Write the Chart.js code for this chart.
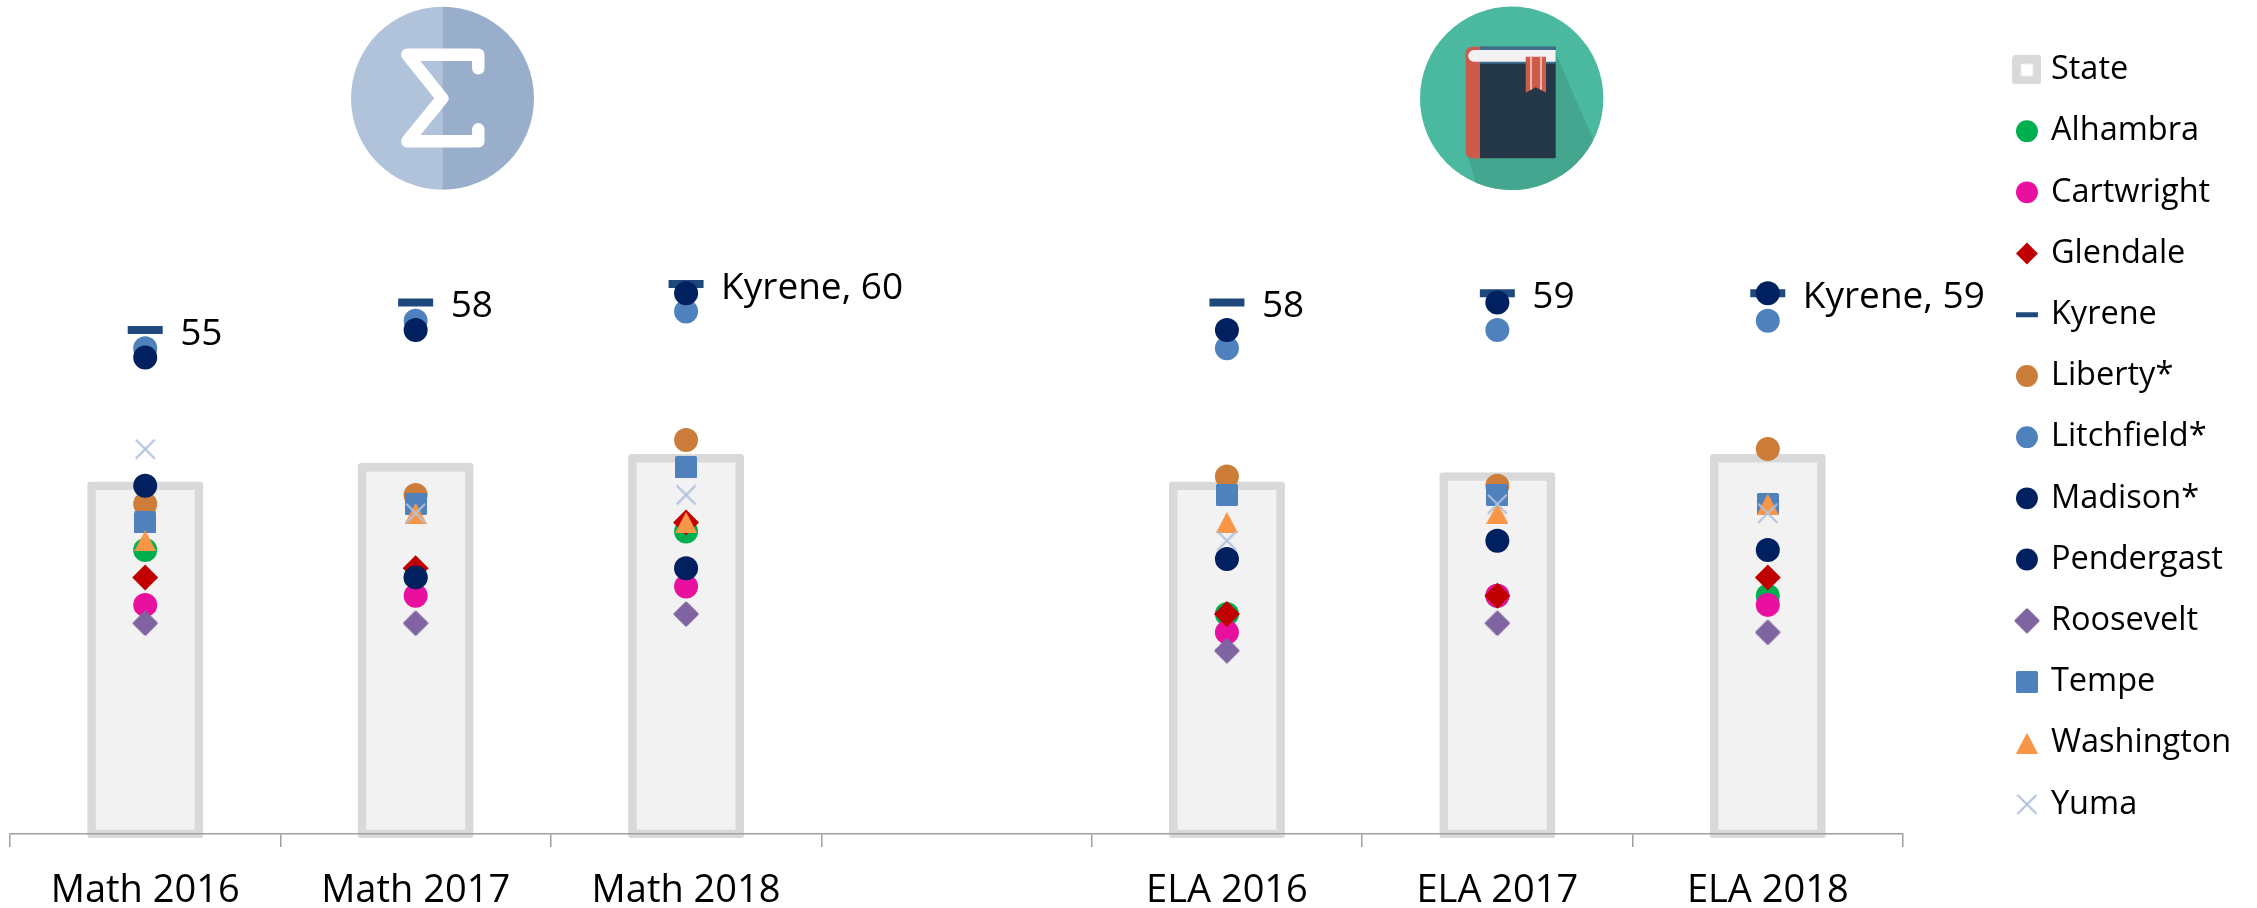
<!DOCTYPE html>
<html>
<head>
<meta charset="utf-8">
<title>District scores</title>
<script src="https://cdn.jsdelivr.net/npm/chart.js@4/dist/chart.umd.min.js"></script>
<style>
  html, body { margin: 0; padding: 0; background: #fff; overflow: hidden; }
  #wrap { position: relative; width: 2257px; height: 908px; }
  #chart { position: absolute; left: 0; top: 0; }
  #icons { position: absolute; left: 0; top: 0; pointer-events: none; }
</style>
</head>
<body>
<div id="wrap">
  <canvas id="chart" width="2257" height="908"></canvas>
  <svg id="icons" width="2257" height="908" viewBox="0 0 2257 908">
    <defs>
      <clipPath id="sigmaClip"><circle cx="442.5" cy="98.3" r="91.5"/></clipPath>
      <clipPath id="bookClip"><circle cx="1511.7" cy="98.3" r="91.7"/></clipPath>
    </defs>
    <g clip-path="url(#sigmaClip)">
      <rect x="351" y="6" width="92" height="185" fill="#B0C3DA"/>
      <rect x="442.7" y="6" width="92" height="185" fill="#98AECA"/>
    </g>
    <polyline points="478.3,68.3 478.3,54.7 407.3,54.7 442.3,98.3 407.3,141.3 478.3,141.3 478.3,129.3" fill="none" stroke="#fff" stroke-width="12.5" stroke-linecap="round" stroke-linejoin="round"/>
    <circle cx="1511.7" cy="98.3" r="91.7" fill="#4BB8A0"/>
    <polygon clip-path="url(#bookClip)" points="1555.7,53 1592.7,138.3 1600,190 1478,190 1466,150" fill="#45A68F"/>
    <rect x="1465.7" y="46.7" width="30" height="111.6" rx="6" fill="#CD5B4C"/>
    <rect x="1480" y="46.7" width="75.7" height="111.6" rx="1" fill="#243746"/>
    <rect x="1480" y="46.7" width="75.7" height="17" fill="#3F6E8C"/>
    <path d="M1474,50 H1555.7 V61.7 H1474 A5.8,5.8 0 0 1 1474,50 Z" fill="#F2F2F2"/>
    <polygon points="1525.7,56.7 1546,56.7 1546,92.7 1535.8,87.3 1525.7,92.7" fill="#CF5B4D"/>
    <rect x="1530" y="56.7" width="2" height="33" fill="#EBB5AC"/>
    <rect x="1540" y="56.7" width="2" height="33" fill="#EBB5AC"/>
  </svg>
</div>
<script>
var categories = ['Math 2016', 'Math 2017', 'Math 2018', '', 'ELA 2016', 'ELA 2017', 'ELA 2018']

var state = [38, 40, 41, null, 38, 39, 41]
var alhambra = [31, 28, 33, null, 24, 26, 26]
var cartwright = [25, 26, 27, null, 22, 26, 25]
var glendale = [28, 29, 34, null, 24, 26, 28]
var kyrene = [55, 58, 60, null, 58, 59, 59]
var liberty = [36, 37, 43, null, 39, 38, 42]
var litchfield = [53, 56, 57, null, 53, 55, 56]
var madison = [52, 55, 59, null, 55, 58, 59]
var pendergast = [38, 28, 29, null, 30, 32, 31]
var roosevelt = [23, 23, 24, null, 20, 23, 22]
var tempe = [34, 36, 40, null, 37, 37, 36]
var washington = [32, 35, 34, null, 34, 35, 36]
var yuma = [42, 35, 37, null, 32, 36, 35]

var kyreneLabels = ['55', '58', 'Kyrene, 60', '', '58', '59', 'Kyrene, 59']

var fontFamily = '"Open Sans", sans-serif'
var legendFontSize = 32.5
var labelFontSize = 37
var tickFontSize = 38

function makeMarker (w, h, paint) {
  var c = document.createElement('canvas')
  c.width = w
  c.height = h
  paint(c.getContext('2d'))
  return c
}

function roundRectPath (ctx, x, y, w, h, r) {
  ctx.beginPath()
  ctx.roundRect(x, y, w, h, r)
}

var stateMarker = makeMarker(29, 29, function (ctx) {
  roundRectPath(ctx, 0, 0, 29, 29, 3)
  ctx.fillStyle = '#D9D9D9'
  ctx.fill()
  ctx.fillStyle = '#FFFFFF'
  ctx.fillRect(8.5, 8.5, 12, 12)
})

var tempeMarker = makeMarker(22, 22, function (ctx) {
  roundRectPath(ctx, 0, 0, 22, 22, 1.5)
  ctx.fillStyle = '#4F81BD'
  ctx.fill()
})

var washingtonMarker = makeMarker(22, 21, function (ctx) {
  ctx.beginPath()
  ctx.moveTo(11, 0)
  ctx.lineTo(22, 21)
  ctx.lineTo(0, 21)
  ctx.closePath()
  ctx.fillStyle = '#F79646'
  ctx.fill()
})

var rooseveltMarker = makeMarker(26, 26, function (ctx) {
  ctx.beginPath()
  ctx.moveTo(13, 2)
  ctx.lineTo(24, 13)
  ctx.lineTo(13, 24)
  ctx.lineTo(2, 13)
  ctx.closePath()
  ctx.fillStyle = '#8064A2'
  ctx.strokeStyle = '#8064A2'
  ctx.lineWidth = 3
  ctx.lineJoin = 'round'
  ctx.fill()
  ctx.stroke()
})

var yumaMarker = makeMarker(21, 21, function (ctx) {
  ctx.beginPath()
  ctx.moveTo(1, 1)
  ctx.lineTo(20, 20)
  ctx.moveTo(20, 1)
  ctx.lineTo(1, 20)
  ctx.strokeStyle = '#B0C0DC'
  ctx.lineWidth = 2
  ctx.stroke()
})

function pointSeries (label, data, color, style, radius, width) {
  return {
    type: 'line',
    label: label,
    data: data,
    showLine: false,
    backgroundColor: color,
    borderColor: color,
    pointBackgroundColor: color,
    pointBorderColor: color,
    pointStyle: style,
    pointRadius: radius,
    pointHoverRadius: radius,
    pointBorderWidth: width || 0
  }
}

var datasets = [
  {
    type: 'bar',
    label: 'State',
    data: state,
    backgroundColor: '#F2F2F2',
    borderColor: '#D9D9D9',
    borderWidth: 8.6,
    borderSkipped: false,
    borderRadius: 3,
    inflateAmount: 4.3,
    barThickness: 107.4,
    clip: false,
    pointStyle: stateMarker
  },
  pointSeries('Alhambra', alhambra, '#00B050', 'circle', 12),
  pointSeries('Cartwright', cartwright, '#E910A0', 'circle', 12),
  pointSeries('Glendale', glendale, '#C00000', 'rectRot', 13),
  pointSeries('Kyrene', kyrene, '#1F497D', 'line', 17.5, 8),
  pointSeries('Liberty*', liberty, '#CC7D3A', 'circle', 12),
  pointSeries('Litchfield*', litchfield, '#4F81BD', 'circle', 12),
  pointSeries('Madison*', madison, '#002060', 'circle', 12),
  pointSeries('Pendergast', pendergast, '#002060', 'circle', 12),
  pointSeries('Roosevelt', roosevelt, '#8064A2', rooseveltMarker, 12),
  pointSeries('Tempe', tempe, '#4F81BD', tempeMarker, 12),
  pointSeries('Washington', washington, '#F79646', washingtonMarker, 12),
  pointSeries('Yuma', yuma, '#B0C0DC', yumaMarker, 12)
].reverse() // first dataset is painted last, so Yuma ends up on top

// legend sits right of the plot with a gap the layout can't give us
var legendPlacer = {
  id: 'legendPlacer',
  afterLayout: function (chart) {
    var legend = chart.legend
    legend.left = 1990.5
    legend.top = 25
    legend.right = legend.left + legend.width
    legend.bottom = legend.top + legend.height
    legend.adjustHitBoxes()
  }
}

var kyreneLabelDraw = {
  id: 'kyreneLabelDraw',
  afterDatasetsDraw: function (chart) {
    var index = chart.data.datasets.findIndex(function (d) { return d.label === 'Kyrene' })
    var points = chart.getDatasetMeta(index).data
    var ctx = chart.ctx
    ctx.save()
    ctx.font = labelFontSize + 'px ' + fontFamily
    ctx.fillStyle = '#000'
    ctx.textAlign = 'left'
    ctx.textBaseline = 'middle'
    points.forEach(function (p, i) {
      if (kyreneLabels[i]) ctx.fillText(kyreneLabels[i], p.x + 35, p.y + 4.5)
    })
    ctx.restore()
  }
}

new Chart(document.getElementById('chart'), {
  data: { labels: categories, datasets: datasets },
  plugins: [legendPlacer, kyreneLabelDraw],
  options: {
    responsive: false,
    animation: false,
    layout: { autoPadding: false, padding: { left: 10, right: 354, top: 0, bottom: 0 } },
    scales: {
      x: {
        // plot edges are fixed, don't let the tick labels push them in
        afterFit: function (scale) {
          scale.paddingLeft = 0
          scale.paddingRight = 0
          scale.height = 74
        },
        grid: { offset: true, drawOnChartArea: false, drawTicks: true, tickLength: 13, color: '#A0A0A0', lineWidth: 1.5 },
        border: { display: true, color: '#A0A0A0', width: 1.5, z: 1 },
        ticks: {
          autoSkip: false,
          maxRotation: 0,
          padding: 23,
          color: '#000',
          font: { family: fontFamily, size: tickFontSize, lineHeight: 1.1 }
        }
      },
      y: { display: false, min: 0, max: 91 }
    },
    plugins: {
      tooltip: { enabled: false },
      legend: {
        position: 'chartArea',
        align: 'start',
        labels: {
          usePointStyle: true,
          boxHeight: 15.5,
          boxWidth: 15.5,
          padding: 28.7,
          color: '#000',
          font: { family: fontFamily, size: legendFontSize },
          generateLabels: function (chart) {
            var items = Chart.defaults.plugins.legend.labels.generateLabels(chart)
            items.forEach(function (item) {
              if (item.text === 'Kyrene') item.lineWidth = 5
            })
            return items.reverse()
          }
        }
      }
    }
  }
})
</script>
</body>
</html>
